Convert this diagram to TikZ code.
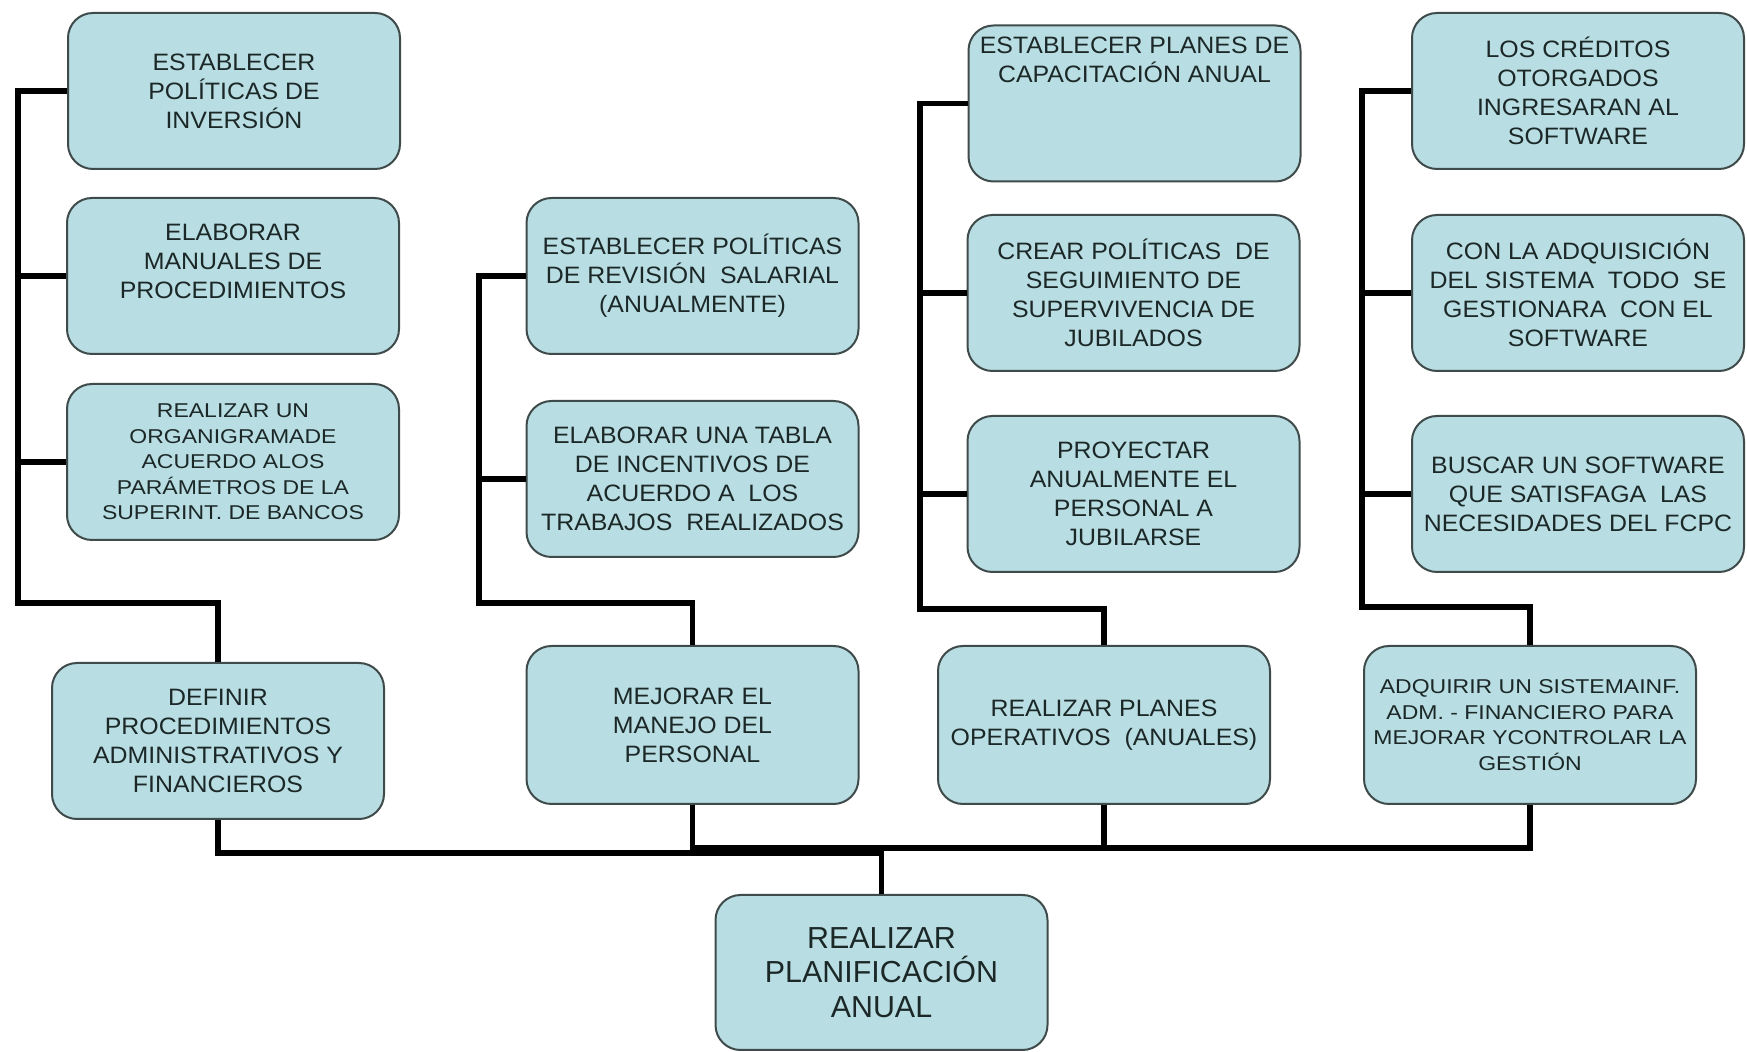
\documentclass[tikz,border=0pt]{standalone}
\usepackage{fontspec}
\newfontfamily\boxfont{Liberation Sans}[FakeStretch=1.05]
\newfontfamily\widefont{Liberation Sans}[FakeStretch=1.15]
\newfontfamily\rootfont{Liberation Sans}
\definecolor{boxfill}{HTML}{B8DDE2}
\definecolor{boxline}{HTML}{3F4B4B}
\definecolor{boxtext}{HTML}{1C2828}
\tikzset{
  box/.style={draw=boxline, line width=1pt, fill=boxfill, rounded corners=12.5pt,
    align=center, inner sep=0pt, text=boxtext,
    minimum width=166pt, minimum height=78pt,
    font=\boxfont\fontsize{11.85}{14.5}\selectfont},
  tall/.style={minimum height=79pt},
  small/.style={font=\widefont\fontsize{10}{12.8}\selectfont},
  rootbox/.style={font=\rootfont\fontsize{15.2}{17.3}\selectfont},
  link/.style={line width=2.8pt, draw=black, line join=miter}
}
\begin{document}
\begin{tikzpicture}[x=0.5pt, y=-0.5pt]
\useasboundingbox (0,0) rectangle (1747,1052);

% first branch
\node[box] (a1) at (234,91) {ESTABLECER\\POLÍTICAS DE\\INVERSIÓN};
\node[box] (a2) at (233,276) {ELABORAR\\MANUALES DE\\PROCEDIMIENTOS\\\mbox{}};
\node[box, small] (a3) at (233,462) {REALIZAR UN\\ORGANIGRAMADE\\ACUERDO ALOS\\PARÁMETROS DE LA\\SUPERINT. DE BANCOS};
\node[box] (a4) at (218,741) {DEFINIR\\PROCEDIMIENTOS\\ADMINISTRATIVOS Y\\FINANCIEROS};

% second branch
\node[box] (b1) at (692.5,276) {ESTABLECER POLÍTICAS\\DE REVISIÓN \ SALARIAL\\(ANUALMENTE)};
\node[box] (b2) at (692.5,479) {ELABORAR UNA TABLA\\DE INCENTIVOS DE\\ACUERDO A \ LOS\\TRABAJOS \ REALIZADOS};
\node[box, tall] (b3) at (692.5,725) {MEJORAR EL\\MANEJO DEL\\PERSONAL};

% third branch
\node[box] (c1) at (1134.5,103.5) {ESTABLECER PLANES DE\\CAPACITACIÓN ANUAL\\\mbox{}\\\mbox{}\\\mbox{}};
\node[box] (c2) at (1133.5,293) {CREAR POLÍTICAS \ DE\\SEGUIMIENTO DE\\SUPERVIVENCIA DE\\JUBILADOS};
\node[box] (c3) at (1133.5,494) {PROYECTAR\\ANUALMENTE EL\\PERSONAL A\\JUBILARSE};
\node[box, tall] (c4) at (1104,725) {REALIZAR PLANES\\OPERATIVOS \ (ANUALES)};

% fourth branch
\node[box] (d1) at (1578,91) {LOS CRÉDITOS\\OTORGADOS\\INGRESARAN AL\\SOFTWARE};
\node[box] (d2) at (1578,293) {CON LA ADQUISICIÓN\\DEL SISTEMA \ TODO \ SE\\GESTIONARA \ CON EL\\SOFTWARE};
\node[box] (d3) at (1578,494) {BUSCAR UN SOFTWARE\\QUE SATISFAGA \ LAS\\NECESIDADES DEL FCPC};
\node[box, tall, small] (d4) at (1530,725) {ADQUIRIR UN SISTEMAINF.\\ADM. - FINANCIERO PARA\\MEJORAR YCONTROLAR LA\\GESTIÓN};

% goal
\node[box, rootbox, minimum height=77.5pt] (root) at (881.5,972.5) {REALIZAR\\PLANIFICACIÓN\\ANUAL};

% trunk turning points
\coordinate (ta) at (18,603);
\coordinate (tb) at (479,603);
\coordinate (tc) at (920,609);
\coordinate (td) at (1362,607);
\coordinate (busa) at (881.5,853);
\coordinate (busb) at (1530,848);

% first branch connectors
\draw[link] (a1.west) -| (ta) -| (a4.north);
\draw[link] (a2.west) -- (a2.west -| ta);
\draw[link] (a3.west) -- (a3.west -| ta);

% second branch connectors
\draw[link] (b1.west) -| (tb) -| (b3.north);
\draw[link] (b2.west) -- (b2.west -| tb);

% third branch connectors
\draw[link] (c1.west) -| (tc) -| (c4.north);
\draw[link] (c2.west) -- (c2.west -| tc);
\draw[link] (c3.west) -- (c3.west -| tc);

% fourth branch connectors
\draw[link] (d1.west) -| (td) -| (d4.north);
\draw[link] (d2.west) -- (d2.west -| td);
\draw[link] (d3.west) -- (d3.west -| td);

% lower bus to the goal
\draw[link] (a4.south) |- (busa) -- (root.north);
\draw[link] (b3.south) |- (busb) -- (d4.south);
\draw[link] (c4.south) -- (c4.south |- busb);
\end{tikzpicture}
\end{document}
